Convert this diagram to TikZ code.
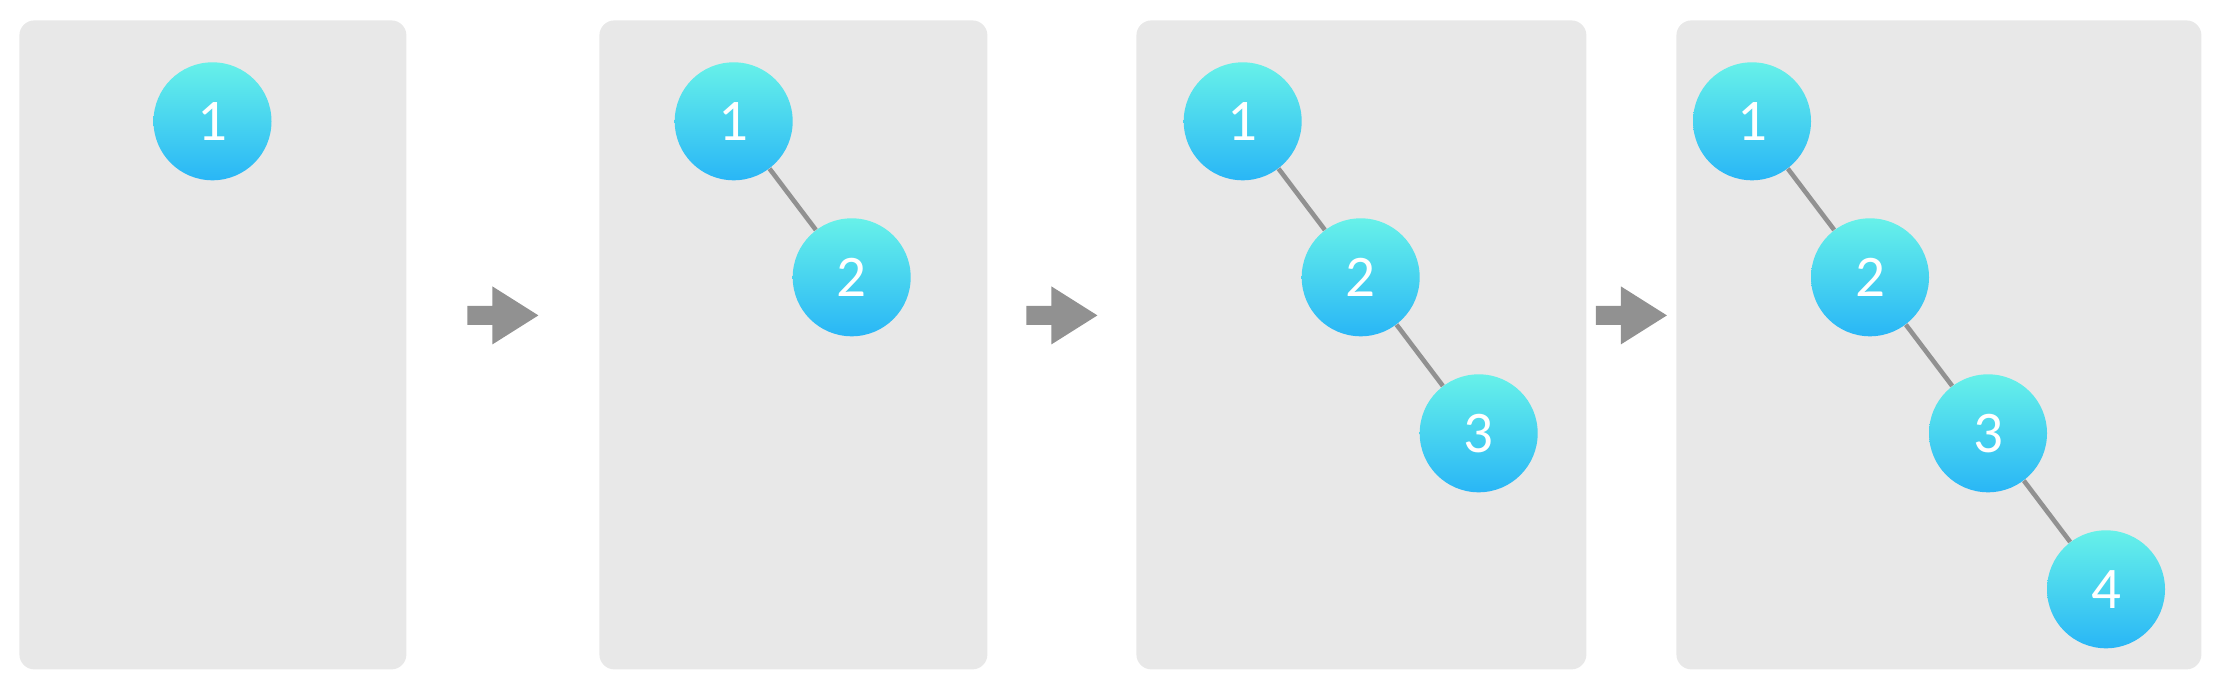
\documentclass[tikz,border=0pt]{standalone}
\usepackage{fontspec}
\setmainfont{Carlito}
\usepackage{xcolor}
\usepackage{tikz}
\usetikzlibrary{calc}
\definecolor{panelbg}{HTML}{E8E8E8}
\definecolor{edge}{HTML}{919191}
\definecolor{ballhi}{HTML}{67F1E9}
\definecolor{balllo}{HTML}{29B6F6}
\tikzset{
  panel/.style={
    fill=panelbg,
    rounded corners=7.5pt,
    inner sep=0pt,
    anchor=north west,
    minimum height=324.5pt
  },
  ball/.style={
    circle,
    minimum size=59pt,
    inner sep=0pt,
    top color=ballhi,
    bottom color=balllo,
    text=white,
    font=\fontsize{29.5}{30}\selectfont
  },
  link/.style={draw=edge, line width=2.3pt},
  flow/.style={fill=edge}
}

\begin{document}
\begin{tikzpicture}[x=0.5pt, y=-0.5pt]
  \useasboundingbox (0,0) rectangle (2218,684);

  % panels
  \node[panel, minimum width=193.5pt] (p1) at (19,20) {};
  \node[panel, minimum width=194pt] (p2) at (599,20) {};
  \node[panel, minimum width=225pt] (p3) at (1136,20) {};
  \node[panel, minimum width=262.5pt] (p4) at (1676,20) {};

  % arrows between panels
  \foreach \a/\b in {p1/p2,p2/p3,p3/p4}{
    \coordinate (m) at ($(\a.east)!0.5!(\b.west)+(0,-29.5)$);
    \fill[flow] (m) ++(-35.5,-9.5) -- ++(25,0) -- ++(0,-19.5) -- ++(46,29)
      -- ++(-46,29) -- ++(0,-19.5) -- ++(-25,0) -- cycle;
  }

  % trees, one more node in each panel
  \foreach \t/\x/\n in {a/212.5/1,b/733.7/2,c/1242.7/3,d/1752/4}{
    \foreach \i in {1,...,\n}{
      \node[ball] (\t\i) at (\x+118*\i-118,121.3+156*\i-156) {\i};
      \ifnum\i>1
        \pgfmathtruncatemacro{\k}{\i-1}
        \draw[link] (\t\k) -- (\t\i);
      \fi
    }
  }
\end{tikzpicture}
\end{document}
